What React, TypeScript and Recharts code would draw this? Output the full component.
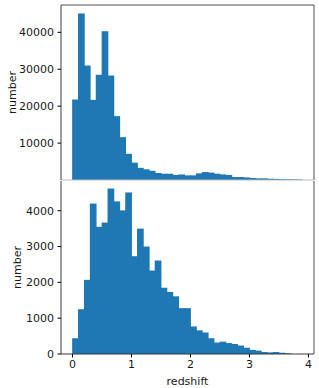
import { BarChart, Bar, XAxis, YAxis, ReferenceLine } from "recharts";

// histogram bins are 0.1 wide, starting at z = 0
const binWidth = 0.1;

// upper panel: all objects
const allCounts = [
  21800, 45100, 31000, 21700, 28500, 40300, 28300, 17300, 11600, 7100,
  4700, 3300, 2900, 2500, 1900, 1700, 1700, 1350, 1500, 1250,
  1250, 1800, 2150, 2000, 1700, 1500, 1350, 800, 800, 700,
  550, 450, 450, 350, 300, 250, 200, 180, 150,
];

// lower panel: subsample
const subCounts = [
  440, 1250, 2070, 4200, 3550, 3670, 4620, 4260, 4010, 4510,
  2730, 3500, 3000, 2330, 2610, 1850, 1730, 1610, 1280, 1280,
  770, 660, 600, 440, 320, 345, 305, 280, 235, 175,
  115, 95, 55, 45, 55, 35, 20,
];

const xTicks = [0, 1, 2, 3, 4];
const allTicks = [0, 10000, 20000, 30000, 40000];
const subTicks = [0, 1000, 2000, 3000, 4000];

const toBins = (counts: number[]) =>
  counts.map((n, i) => ({ z: (i + 0.5) * binWidth, n }));

const X_DOMAIN: [number, number] = [-0.195, 4.095];
const W = 319;
const AXIS_W = 61;
const RIGHT = 5;
const PLOT_W = W - AXIS_W - RIGHT;
const BIN_PX = (PLOT_W * binWidth) / (X_DOMAIN[1] - X_DOMAIN[0]);

const font = "'DejaVu Sans', sans-serif";
const tickStyle = { fontSize: 11, fill: "#1a1a1a", fontFamily: font };
const blue = "#1f77b4";
const spine = "#3a3a3a";
const seam = "#bdbdbd";

// recharts trims bar widths to whole pixels; redraw each bar full-bin wide
// (plus a little overlap so antialiased seams don't show between bins)
function HistBar(props: any) {
  const { x, y, width, height, fill } = props;
  if (!height || height <= 0) return null;
  const cx = x + width / 2;
  const w = BIN_PX + 0.8;
  return <rect x={cx - w / 2} y={y} width={w} height={height} fill={fill} />;
}

function Panel({
  counts,
  ticks,
  yMax,
  height,
  margin,
  lower,
  labelOffset,
}: {
  counts: number[];
  ticks: number[];
  yMax: number;
  height: number;
  margin: { top: number; right: number; bottom: number; left: number };
  lower: boolean;
  labelOffset: number;
}) {
  return (
    <BarChart
      width={W}
      height={height}
      data={toBins(counts)}
      margin={margin}
      barCategoryGap={0}
      barGap={0}
    >
      <XAxis
        type="number"
        dataKey="z"
        domain={X_DOMAIN}
        ticks={xTicks}
        allowDataOverflow
        hide={!lower}
        height={34}
        tick={tickStyle}
        tickSize={3.5}
        tickMargin={2.5}
        axisLine={{ stroke: spine }}
        tickLine={{ stroke: "#000" }}
        label={{
          value: "redshift",
          position: "insideBottom",
          offset: 3,
          style: { fontSize: 11, fill: "#1a1a1a", fontFamily: font },
        }}
      />
      <YAxis
        type="number"
        domain={[0, yMax]}
        ticks={ticks}
        width={AXIS_W}
        tick={tickStyle}
        tickSize={3.5}
        tickMargin={3.5}
        axisLine={{ stroke: spine }}
        tickLine={{ stroke: "#000" }}
        label={{
          value: "number",
          angle: -90,
          position: "insideLeft",
          offset: labelOffset,
          style: { fontSize: 11, fill: "#1a1a1a", fontFamily: font, textAnchor: "middle" },
        }}
      />
      <Bar dataKey="n" fill={blue} shape={HistBar} isAnimationActive={false} />
      <ReferenceLine x={X_DOMAIN[1]} stroke={spine} strokeWidth={0.9} ifOverflow="visible" />
      {!lower && (
        <ReferenceLine y={yMax} stroke={spine} strokeWidth={0.9} ifOverflow="visible" />
      )}
      {!lower && (
        <ReferenceLine y={0} stroke={seam} strokeWidth={1} ifOverflow="visible" />
      )}
    </BarChart>
  );
}

export default function App() {
  return (
    <div
      style={{
        position: "absolute",
        left: 0,
        top: 0,
        width: W,
        height: 388,
        background: "#fff",
        fontFamily: font,
      }}
    >
      <div style={{ position: "absolute", left: 0, top: 0 }}>
        <Panel
          counts={allCounts}
          ticks={allTicks}
          yMax={47400}
          height={181}
          margin={{ top: 5, right: RIGHT, bottom: 1, left: 0 }}
          lower={false}
          labelOffset={11.8}
        />
      </div>
      <div style={{ position: "absolute", left: 0, top: 180 }}>
        <Panel
          counts={subCounts}
          ticks={subTicks}
          yMax={4830}
          height={208}
          margin={{ top: 1, right: RIGHT, bottom: 0, left: 0 }}
          lower={true}
          labelOffset={16.8}
        />
      </div>
    </div>
  );
}
